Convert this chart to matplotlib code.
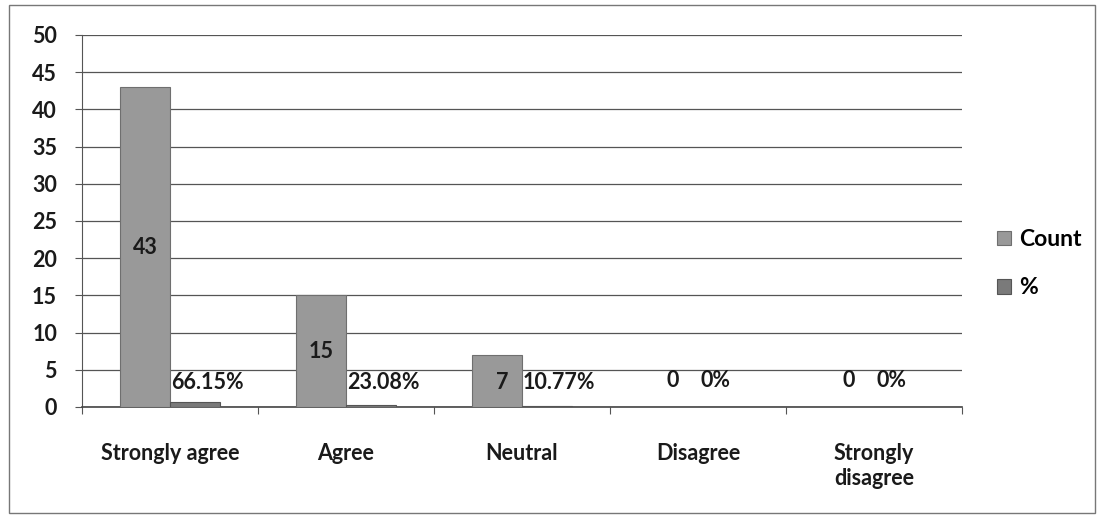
import matplotlib
matplotlib.use("Agg")
import matplotlib.pyplot as plt
import numpy as np
from matplotlib.patches import Rectangle

categories = ["Strongly agree", "Agree", "Neutral", "Disagree", "Strongly\ndisagree"]
count = [43, 15, 7, 0, 0]
pct = [0.6615, 0.2308, 0.1077, 0, 0]
pct_labels = ["66.15%", "23.08%", "10.77%", "0%", "0%"]
yticks = [0, 5, 10, 15, 20, 25, 30, 35, 40, 45, 50]

plt.rcParams['font.family'] = ['Lato', 'DejaVu Sans']
fig = plt.figure(figsize=(11.02, 5.19), dpi=100)
ax = fig.add_axes([0.0744, 0.2158, 0.7986, 0.7168])

FS = 15.5
x = np.arange(len(categories))
w = 0.284
b1 = ax.bar(x - w/2, count, w, color="#999999", edgecolor="#6f6f6f", linewidth=0.8, label="Count", zorder=3)
b2 = ax.bar(x + w/2, pct, w, color="#7a7a7a", edgecolor="#555555", linewidth=0.8, label="%", zorder=3)

for i in range(len(categories)):
    yc = count[i] / 2 if count[i] > 7 else 3.3
    if count[i] == 0:
        yc = 3.6
    ax.text(x[i] - w/2 + (0.03 if count[i] == 7 else 0), yc, str(count[i]), ha="center", va="center",
            fontsize=FS, fontweight="bold", color="#1a1a1a", zorder=4)
    ax.text(x[i] + w/2 + (0.07 if pct[i] > 0 else -0.04), 3.3 if pct[i] > 0 else 3.6, pct_labels[i],
            ha="center", va="center", fontsize=FS, fontweight="bold", color="#1a1a1a", zorder=4)

ax.set_xlim(-0.5, len(categories) - 0.5)
ax.set_ylim(0, 50)
ax.set_yticks(yticks)
ax.set_yticklabels([str(v) for v in yticks], fontsize=FS, fontweight="bold", color="#1a1a1a")
ax.grid(axis="y", color="#555555", linewidth=0.9, zorder=0)
ax.set_axisbelow(True)
ax.set_xticks(np.arange(-0.5, len(categories) + 0.5, 1), minor=False)
ax.set_xticklabels([])
ax.set_xticks(x, minor=True)
ax.set_xticklabels(categories, minor=True, fontsize=FS, fontweight="bold", color="#1a1a1a", va="top")
ax.tick_params(axis="x", which="minor", length=0, pad=26)
ax.tick_params(axis="x", which="major", length=5, color="#555555", direction="out")
ax.tick_params(axis="y", length=5, color="#555555", pad=13)
for s in ["top", "right"]:
    ax.spines[s].set_visible(False)
ax.spines["left"].set_color("#555555")
ax.spines["bottom"].set_color("#444444")
ax.spines["bottom"].set_linewidth(1.2)

leg = fig.legend(handles=[b1, b2], labels=["Count", "%"], loc="center left",
                 bbox_to_anchor=(0.886, 0.492), frameon=False, handlelength=0.6, handleheight=0.6,
                 labelspacing=1.2, handletextpad=0.35, prop={"size": 16.5, "weight": "bold"})

fig.patches.append(Rectangle((0.008, 0.012), 0.986, 0.978, transform=fig.transFigure,
                             fill=False, edgecolor="#777777", linewidth=1.0))

fig.savefig("out.png", dpi=100)
